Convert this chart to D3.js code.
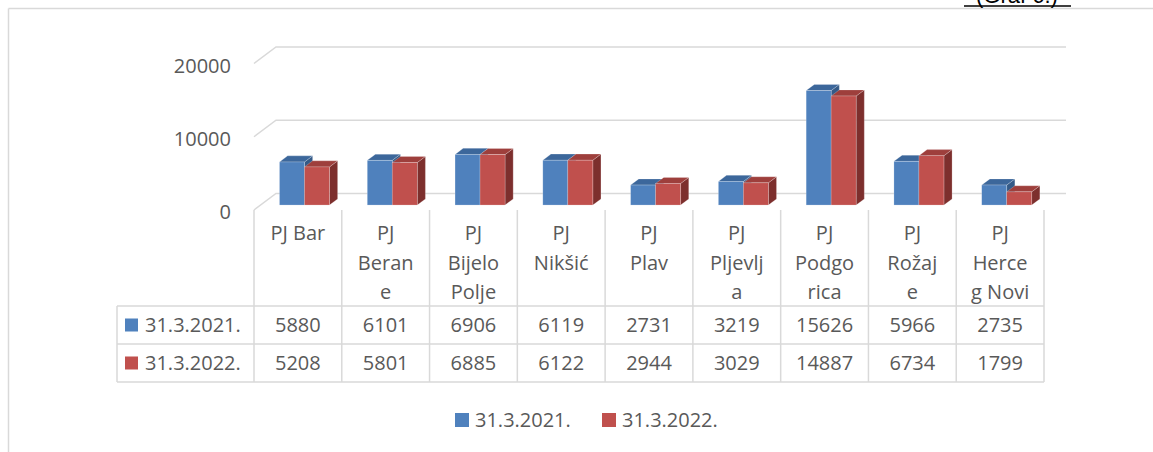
<!DOCTYPE html>
<html>
<head>
<meta charset="utf-8">
<script src="https://cdn.jsdelivr.net/npm/d3@7"></script>
<style>
  body { margin: 0; background: #fff; }
  svg { display: block; font-family: "Open Sans", sans-serif; }
</style>
</head>
<body>
<svg id="chart" width="1153" height="452"></svg>
<script>
// data
var categories = ["PJ Bar", "PJ Berane", "PJ Bijelo Polje", "PJ Nikšić", "PJ Plav", "PJ Pljevlja", "PJ Podgorica", "PJ Rožaje", "PJ Herceg Novi"];
// how the labels wrap in the table header
var categoryLines = [["PJ Bar"], ["PJ", "Beran", "e"], ["PJ", "Bijelo", "Polje"], ["PJ", "Nikšić"], ["PJ", "Plav"], ["PJ", "Pljevlj", "a"], ["PJ", "Podgo", "rica"], ["PJ", "Rožaj", "e"], ["PJ", "Herce", "g Novi"]];
var seriesNames = ["31.3.2021.", "31.3.2022."];
var values2021 = [5880, 6101, 6906, 6119, 2731, 3219, 15626, 5966, 2735];
var values2022 = [5208, 5801, 6885, 6122, 2944, 3029, 14887, 6734, 1799];
var yTicks = [0, 10000, 20000];

var colors = {
  front: ["#4f81bd", "#c0504d"],
  top: ["#3c679b", "#9e3f3c"],
  side: ["#345a87", "#7d2f2d"]
};
var gridColor = "#d9d9d9";
var textColor = "#595959";

var svg = d3.select("#chart");

// outer frame (top + left edge visible)
svg.append("line").attr("x1", 8.5).attr("x2", 1153).attr("y1", 8.5).attr("y2", 8.5)
  .attr("stroke", gridColor).attr("stroke-width", 1.5);
svg.append("line").attr("x1", 8.5).attr("x2", 8.5).attr("y1", 8.5).attr("y2", 452)
  .attr("stroke", gridColor).attr("stroke-width", 1.5);

// caption cut off at top
svg.append("text").attr("x", 1017).attr("y", 3).attr("text-anchor", "middle")
  .style("font-family", "Liberation Sans, Arial, sans-serif").style("font-size", "22px")
  .attr("fill", "#000").text("(Graf 6.)");
svg.append("line").attr("x1", 964).attr("x2", 1071).attr("y1", 6).attr("y2", 6)
  .attr("stroke", "#000").attr("stroke-width", 1.5);

// scales
var x = d3.scaleBand().domain(categories).range([254, 1044]).padding(0);
var y = d3.scaleLinear().domain([0, 20000]).range([210, 63.5]);
var inner = d3.scaleBand().domain(seriesNames).range([-25, 25]).padding(0);

// oblique depth
var depthX = 22, depthY = -16.5;
var fFront = 0.3, fBack = 0.67;

// gridlines (side diagonal + back wall)
var grid = svg.append("g");
yTicks.forEach(function(t) {
  var yf = y(t);
  grid.append("polyline")
    .attr("points", [[x.range()[0], yf], [x.range()[0] + depthX, yf + depthY], [x.range()[1] + depthX, yf + depthY]].join(" "))
    .attr("fill", "none").attr("stroke", gridColor).attr("stroke-width", 1.5);
});

// y axis labels
svg.append("g").selectAll("text").data(yTicks).enter().append("text")
  .attr("x", 231).attr("y", function(d) { return y(d) + 2; })
  .attr("dy", "0.35em").attr("text-anchor", "end")
  .style("font-size", "20px").attr("fill", textColor)
  .text(function(d) { return d; });

// bars
var barData = [];
categories.forEach(function(c, i) {
  [values2021[i], values2022[i]].forEach(function(v, s) {
    barData.push({ cat: c, s: s, value: v });
  });
});

var bw = inner.bandwidth();
var bdx = (fBack - fFront) * depthX, bdy = (fBack - fFront) * depthY;
var bars = svg.append("g").selectAll("g").data(barData).enter().append("g");

bars.each(function(d) {
  var g = d3.select(this);
  var x0 = x(d.cat) + x.bandwidth() / 2 + inner(seriesNames[d.s]) + fFront * depthX;
  var yb = y(0) + fFront * depthY;
  var yt = y(d.value) + fFront * depthY;
  var edge = "rgba(255,255,255,0.35)";
  g.append("polygon")
    .attr("points", [[x0 + bw, yt], [x0 + bw + bdx, yt + bdy], [x0 + bw + bdx, yb + bdy], [x0 + bw, yb]].join(" "))
    .attr("fill", colors.side[d.s]).attr("stroke", edge).attr("stroke-width", 0.6);
  g.append("polygon")
    .attr("points", [[x0, yt], [x0 + bw, yt], [x0 + bw + bdx, yt + bdy], [x0 + bdx, yt + bdy]].join(" "))
    .attr("fill", colors.top[d.s]).attr("stroke", edge).attr("stroke-width", 0.6);
  g.append("rect")
    .attr("x", x0).attr("y", yt).attr("width", bw).attr("height", yb - yt)
    .attr("fill", colors.front[d.s]).attr("stroke", edge).attr("stroke-width", 0.6);
});

// data table
var rowTop = 306, rowH = 38, tableLeft = 117;
var table = svg.append("g");
x.domain().concat([null]).forEach(function(c) {
  var xx = c === null ? x.range()[1] : x(c);
  table.append("line").attr("x1", xx).attr("x2", xx).attr("y1", 210).attr("y2", rowTop + 2 * rowH)
    .attr("stroke", gridColor).attr("stroke-width", 1.5);
});
table.append("line").attr("x1", tableLeft).attr("x2", tableLeft).attr("y1", rowTop).attr("y2", rowTop + 2 * rowH)
  .attr("stroke", gridColor).attr("stroke-width", 1.5);
[0, 1, 2].forEach(function(r) {
  table.append("line").attr("x1", tableLeft).attr("x2", x.range()[1])
    .attr("y1", rowTop + r * rowH).attr("y2", rowTop + r * rowH)
    .attr("stroke", gridColor).attr("stroke-width", 1.5);
});

// header labels
categories.forEach(function(c, i) {
  var t = table.append("text").attr("text-anchor", "middle")
    .style("font-size", "20px").attr("fill", textColor);
  categoryLines[i].forEach(function(line, k) {
    t.append("tspan").attr("x", x(c) + x.bandwidth() / 2).attr("y", 233 + k * 29.5)
      .attr("dy", "0.35em").text(line);
  });
});

// value rows
[values2021, values2022].forEach(function(vals, r) {
  var cy = rowTop + r * rowH + rowH / 2;
  table.append("rect").attr("x", 125).attr("y", cy - 6.5).attr("width", 13).attr("height", 13)
    .attr("fill", colors.front[r]);
  table.append("text").attr("x", 145).attr("y", cy).attr("dy", "0.35em")
    .style("font-size", "20px").attr("fill", textColor).text(seriesNames[r]);
  categories.forEach(function(c, i) {
    table.append("text").attr("x", x(c) + x.bandwidth() / 2).attr("y", cy).attr("dy", "0.35em")
      .attr("text-anchor", "middle").style("font-size", "20px").attr("fill", textColor)
      .text(vals[i]);
  });
});

// legend
var legendX = [455, 602];
var legend = svg.append("g");
seriesNames.forEach(function(name, s) {
  legend.append("rect").attr("x", legendX[s]).attr("y", 413).attr("width", 14).attr("height", 14)
    .attr("fill", colors.front[s]);
  legend.append("text").attr("x", legendX[s] + 20).attr("y", 420).attr("dy", "0.35em")
    .style("font-size", "20px").attr("fill", textColor).text(name);
});
</script>
</body>
</html>
